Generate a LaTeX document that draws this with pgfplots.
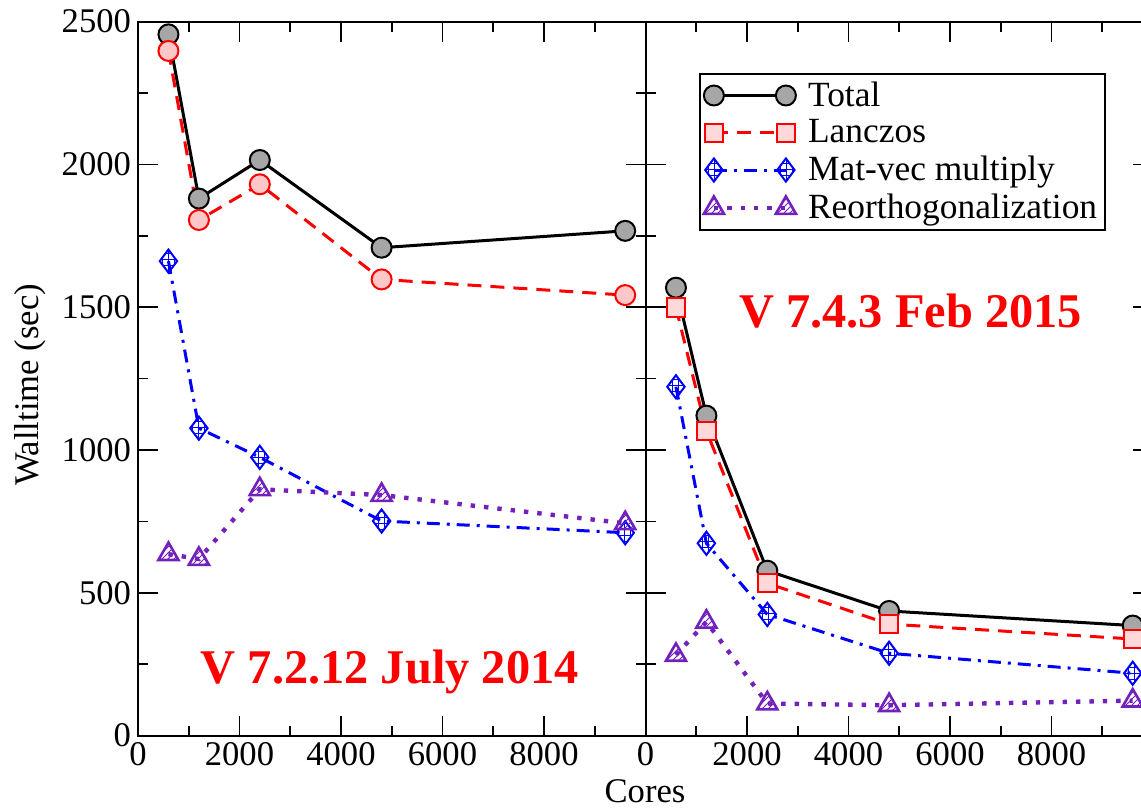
\documentclass[border=0pt]{standalone}
\usepackage{pgfplots}
\pgfplotsset{compat=1.18}
\usepackage{fontspec}
\setmainfont{Liberation Serif}
\usetikzlibrary{patterns}
\definecolor{indigo}{RGB}{114,33,188}
\pgfplotsset{
  panel/.style={
    scale only axis, width=253.75pt, height=357pt,
    xmin=0, xmax=10000, ymin=0, ymax=2500,
    xtick={0,2000,...,8000}, minor xtick={1000,3000,...,9000},
    ytick={0,500,...,2500}, minor ytick={250,750,...,2250},
    major tick length=10pt, minor tick length=5pt,
    tick style={line width=0.8pt, black}, axis line style={line width=1pt},
    tick align=inside, xtick pos=both, ytick pos=both,
    ticklabel style={font=\fontsize{17.3}{20}\selectfont},
    /pgf/number format/assume math mode=true, scaled ticks=false,
    /pgf/number format/set thousands separator={},
    clip=false,
  },
  total/.style={black, solid, line width=1.5pt, mark=*, mark size=5pt,
    mark options={solid, fill=gray!70, draw=black, line width=1pt}},
  lanczosL/.style={red, line width=1.5pt, dash pattern=on 7pt off 4.5pt, mark=*, mark size=5pt,
    mark options={solid, fill=red!22, draw=red, line width=1pt}},
  lanczosR/.style={red, line width=1.5pt, dash pattern=on 7pt off 4.5pt, mark=square*, mark size=4.6pt,
    mark options={solid, fill=red!15, draw=red, line width=1pt}},
  matvec/.style={blue, line width=1.5pt, dash pattern=on 6.5pt off 3.5pt on 1.5pt off 3.5pt, mark=diamond*, mark size=5.8pt,
    mark options={solid, draw=blue, line width=1pt, pattern=grid, pattern color=blue}},
  reorth/.style={indigo, line width=2.2pt, dash pattern=on 2.2pt off 4.5pt, mark=triangle*, mark size=5.8pt,
    mark options={solid, draw=indigo, line width=1.3pt, pattern=north east lines, pattern color=indigo}},
}
\begin{document}
\begin{tikzpicture}
\begin{axis}[panel, name=left, at={(0pt,0pt)}, anchor=south west]
\addplot[total] coordinates {(600,2455) (1200,1880) (2400,2015) (4800,1708) (9600,1767)};
\addplot[lanczosL] coordinates {(600,2397) (1200,1805) (2400,1930) (4800,1597) (9600,1542)};
\addplot[matvec] coordinates {(600,1661) (1200,1076) (2400,974) (4800,751) (9600,710)};
\addplot[reorth] coordinates {(600,635) (1200,618) (2400,862) (4800,842) (9600,743)};
\node[text=red, font=\bfseries\fontsize{24.2}{28}\selectfont] at (axis cs:4960,222) {V 7.2.12 July 2014};
\end{axis}
\begin{axis}[panel, name=right, at={(253.75pt,0pt)}, anchor=south west, yticklabels={},
  legend cell align=left,
  legend style={at={(0.1055,0.928)}, anchor=north west, draw=black, line width=0.8pt,
    font=\fontsize{17.7}{20}\selectfont, inner sep=2pt, row sep=1.2pt},
  legend image code/.code={\path (-3pt,0pt) (44pt,0pt);\draw[mark repeat=2, mark phase=1, #1] plot coordinates {(0pt,0pt) (18pt,0pt) (36pt,0pt)};}]
\addplot[total] coordinates {(600,1568) (1200,1120) (2400,577) (4800,436) (9600,385)};
\addlegendentry{Total}
\addplot[lanczosR] coordinates {(600,1499) (1200,1066) (2400,533) (4800,390) (9600,338)};
\addlegendentry{Lanczos}
\addplot[matvec] coordinates {(600,1221) (1200,673) (2400,424) (4800,288) (9600,218)};
\addlegendentry{Mat-vec multiply}
\addplot[reorth] coordinates {(600,282) (1200,398) (2400,112) (4800,106) (9600,122)};
\addlegendentry{Reorthogonalization}
\node[text=red, font=\bfseries\fontsize{24.2}{28}\selectfont] at (axis cs:5222,1486) {V 7.4.3 Feb 2015};
\end{axis}
\node[font=\fontsize{17.3}{20}\selectfont] at (253.5pt,-28pt) {Cores};
\node[font=\fontsize{17.3}{20}\selectfont, rotate=90] at (-54pt,175.25pt) {Walltime (sec)};
\pgfresetboundingbox
\useasboundingbox (-69pt,-37.75pt) rectangle (501.5pt,367.75pt);
\end{tikzpicture}
\end{document}
